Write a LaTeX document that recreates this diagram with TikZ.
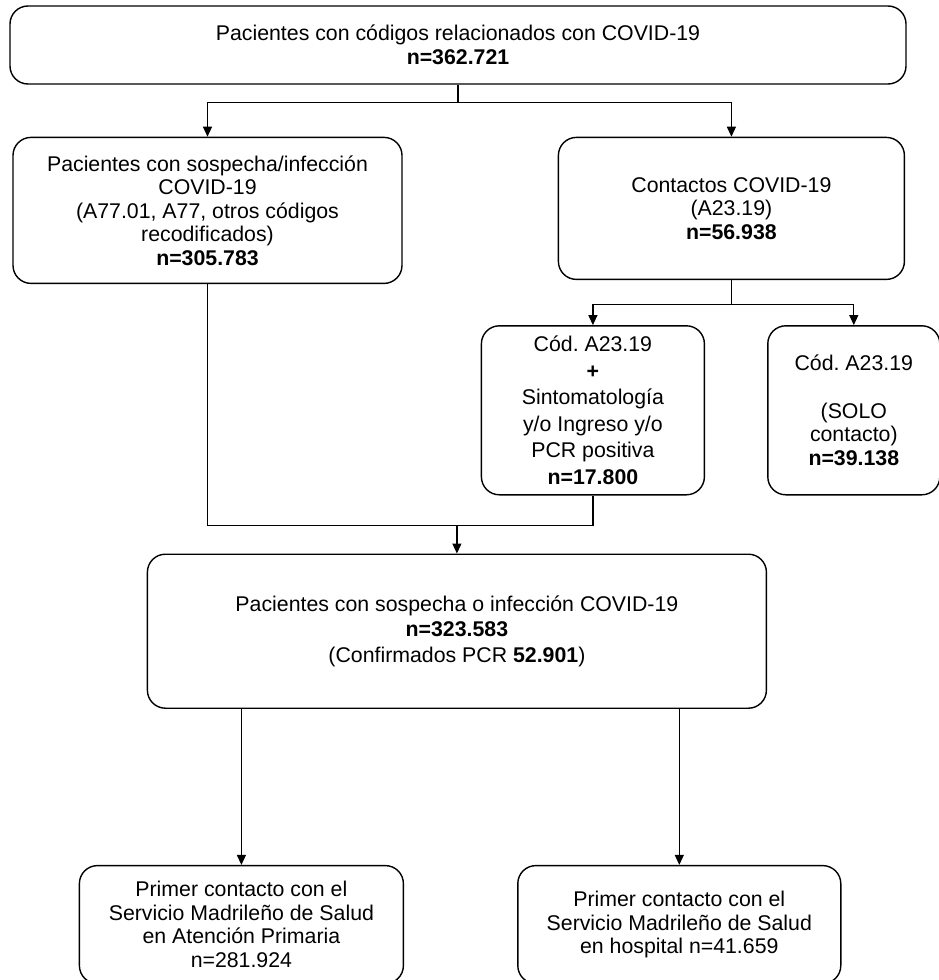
\documentclass[tikz,border=0pt]{standalone}
\usepackage{fontspec}
\setmainfont{Liberation Sans}
\usetikzlibrary{arrows.meta,positioning,calc}
\frenchspacing

\begin{document}
\begin{tikzpicture}[
  font=\fontsize{21.3pt}{23.5pt}\selectfont,
  box/.style={draw,line width=1.4pt,rounded corners=18pt,align=center,inner sep=2pt},
  arr/.style={-{Triangle[length=10pt,width=9pt]},line width=1.2pt},
  link/.style={line width=1.2pt},
]
\useasboundingbox (0,0) rectangle (939pt,-980pt);
\node[box,minimum width=896pt,minimum height=78pt] (todos) at (458pt,-45pt) {Pacientes con códigos relacionados con COVID-19\\\textbf{n=362.721}};
\node[box,minimum width=389pt,minimum height=146pt,below=52pt of todos.south west,anchor=north west,xshift=3pt] (sosp) {Pacientes con sospecha/infección\\COVID-19\\(A77.01, A77, otros códigos\\recodificados)\\\textbf{n=305.783}};
\node[box,minimum width=346pt,minimum height=142pt,right=155pt of sosp.north east,anchor=north west] (cont) {Contactos COVID-19\\(A23.19)\\\textbf{n=56.938}};
\node[box,minimum width=223pt,minimum height=169pt,below=45pt of cont.south west,anchor=north west,xshift=-77pt,font=\fontsize{21.3pt}{26.5pt}\selectfont] (codA) {Cód. A23.19\\\textbf{+}\\Sintomatología\\y/o Ingreso y/o\\PCR positiva\\\textbf{n=17.800}};
\node[box,minimum width=172pt,minimum height=169pt,right=62pt of codA] (solo) {Cód. A23.19\\[24pt](SOLO\\contacto)\\\textbf{n=39.138}};
\node[box,minimum width=619pt,minimum height=154pt,below=58pt of codA.south,xshift=-136pt,font=\fontsize{21.3pt}{25.5pt}\selectfont] (conf) {Pacientes con sospecha o infección COVID-19\\\textbf{n=323.583}\\(Confirmados PCR \textbf{52.901})};
\node[box,minimum width=324pt,minimum height=118pt,below=156pt of conf.south west,anchor=north west,xshift=-68pt] (prim) {Primer contacto con el\\Servicio Madrileño de Salud\\en Atención Primaria\\n=281.924};
\node[box,minimum width=323pt,minimum height=118pt,right=113pt of prim] (hosp) {Primer contacto con el\\Servicio Madrileño de Salud\\en hospital n=41.659};
% conectores
\draw[link] (todos.south) -- ++(0,-18pt) coordinate (j1);
\draw[arr] (j1) -| (sosp.north);
\draw[arr] (j1) -| (cont.north);
\draw[link] (cont.south) -- ++(0,-24pt) coordinate (j2);
\draw[arr] (j2) -| (codA.north);
\draw[arr] (j2) -| (solo.north);
\coordinate (j3) at ($(codA.south)+(0,-30pt)$);
\draw[link] (sosp.south) |- (j3) -- (codA.south);
\draw[arr] (conf.north |- j3) -- (conf.north);
\draw[arr] (prim.north |- conf.south) -- (prim.north);
\draw[arr] (hosp.north |- conf.south) -- (hosp.north);
\end{tikzpicture}
\end{document}
